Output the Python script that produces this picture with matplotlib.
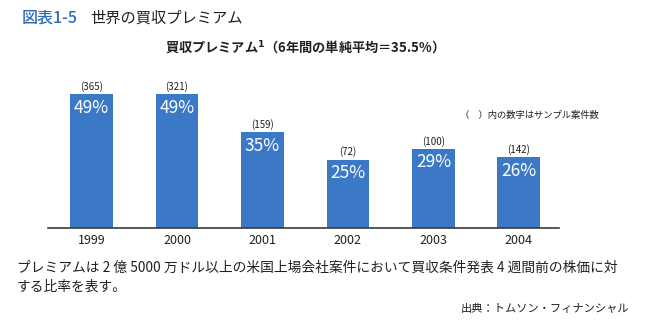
import matplotlib
matplotlib.use('Agg')
import matplotlib.pyplot as plt

plt.rcParams['font.family'] = ['Noto Sans CJK JP', 'DejaVu Sans']

years = ['1999', '2000', '2001', '2002', '2003', '2004']
premium = [49, 49, 35, 25, 29, 26]
samples = [365, 321, 159, 72, 100, 142]

bar_color = '#3b78c6'
title_blue = '#2a6cb8'
text_dark = '#231f20'

W, H = 647, 324
fig = plt.figure(figsize=(W / 100, H / 100), dpi=100)
fig.patch.set_facecolor('white')

# axes in pixel coords: x 48..559, y 70..228 (top..baseline)
ax = fig.add_axes([48 / W, 1 - 228 / H, (559 - 48) / W, (228 - 70) / H])
x = list(range(len(years)))
ax.bar(x, premium, width=0.5, color=bar_color, zorder=2)
ax.set_xlim(-0.51, 5.47)
ax.set_ylim(0, 57.7)

for s in ['top', 'right', 'left']:
    ax.spines[s].set_visible(False)
ax.spines['bottom'].set_color('#3a3a3a')
ax.spines['bottom'].set_linewidth(1.2)
ax.set_yticks([])
ax.set_xticks(x)
ax.set_xticklabels(years, fontsize=9, color=text_dark)
ax.tick_params(axis='x', length=0, pad=4)

for xi, p, n in zip(x, premium, samples):
    ax.annotate(f'{p}%', (xi, p), xytext=(0, -3.5), textcoords='offset points',
                ha='center', va='top', color='white', fontsize=12.5)
    ax.annotate(f'({n})', (xi, p), xytext=(0, 1.5), textcoords='offset points',
                ha='center', va='bottom', color=text_dark, fontsize=7)

fig.text(22 / W, 1 - 18 / H, '図表1-5', color=title_blue, fontsize=11.5,
         fontweight='medium', ha='left', va='center')
fig.text(90 / W, 1 - 18 / H, '世界の買収プレミアム', color=text_dark, fontsize=11,
         ha='left', va='center')

fig.text(165 / W, 1 - 47 / H, r'買収プレミアム$^{\mathbf{1}}$（6年間の単純平均＝35.5%）',
         color=text_dark, fontsize=9.5, fontweight='bold', ha='left', va='center')

fig.text(460 / W, 1 - 115 / H, '（　）内の数字はサンプル案件数', color=text_dark,
         fontsize=6.7, ha='left', va='center')

fig.text(17 / W, 1 - 268 / H,
         'プレミアムは 2 億 5000 万ドル以上の米国上場会社案件において'
         '買収条件発表 4 週間前の株価に対',
         color=text_dark, fontsize=9.9, ha='left', va='center')
fig.text(17 / W, 1 - 287 / H, 'する比率を表す。', color=text_dark, fontsize=9.9,
         ha='left', va='center')
fig.text(629 / W, 1 - 309 / H, '出典：トムソン・フィナンシャル', color=text_dark,
         fontsize=8.1, ha='right', va='center')

fig.savefig('out.png', dpi=100, facecolor='white')
